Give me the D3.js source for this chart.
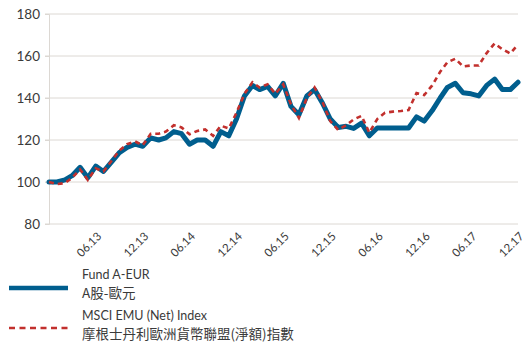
<!DOCTYPE html>
<html>
<head>
<meta charset="utf-8">
<script src="https://cdn.jsdelivr.net/npm/d3@7/dist/d3.min.js"></script>
<style>
  html, body { margin: 0; padding: 0; background: #fff; }
  svg { display: block; }
</style>
</head>
<body>
<svg id="chart" width="529" height="343"></svg>
<script>
// Monthly indexed performance, Dec 2012 = 100
const startMonth = new Date(2012, 11, 1);
const fundValues = [
  100, 100, 101, 103, 107, 102, 107.6, 105, 109.5, 114,
  116.5, 118, 117, 121, 120, 121, 124, 123, 118, 120,
  120, 117, 124, 122, 130, 141, 146, 144, 145.5, 141,
  147, 136, 132, 141, 144, 137.5, 130, 126, 126.5, 125.5,
  128, 122, 125.7, 125.7, 125.7, 125.7, 125.7, 131, 129, 134,
  140, 145, 147, 142.5, 142, 141, 146, 149, 144, 144,
  147.5
];
const indexValues = [
  100, 99, 99.5, 102, 106, 101, 106.5, 105, 110, 115,
  118, 119.3, 117.5, 123, 123, 124, 127, 126, 122.7, 124.3,
  125, 122, 126.8, 125.5, 133, 142, 147.5, 145, 146.5, 142,
  146.5, 137, 130.5, 140, 145, 138, 129, 124.8, 127, 129.8,
  131.5, 123.5, 130, 133, 133.5, 133.8, 134.3, 142.4, 141.4, 146,
  152.5, 157, 158.7, 155, 155.5, 155.5, 161.4, 166, 163.2, 161.2,
  165.5
];
const tickLabels = ["06.13", "12.13", "06.14", "12.14", "06.15", "12.15", "06.16", "12.16", "06.17", "12.17"];
const yTicks = [80, 100, 120, 140, 160, 180];
const seriesNames = [
  ["Fund A-EUR", "A股-歐元"],
  ["MSCI EMU (Net) Index", "摩根士丹利歐洲貨幣聯盟(淨額)指數"]
];

const months = fundValues.map((_, i) => new Date(startMonth.getFullYear(), startMonth.getMonth() + i, 1));
const tickDates = tickLabels.map(s => {
  const [m, y] = s.split(".").map(Number);
  return new Date(2000 + y, m - 1, 1);
});

const svg = d3.select("#chart");
const font = "Lato, 'Noto Sans', 'Noto Sans CJK TC', sans-serif";
const margin = { left: 49, right: 11, top: 14, bottom: 119 };
const width = 529, height = 343;

const x = d3.scaleTime()
  .domain([months[0], months[months.length - 1]])
  .range([margin.left, width - margin.right]);
const y = d3.scaleLinear()
  .domain([80, 180])
  .range([height - margin.bottom, margin.top]);

// Horizontal gridlines
svg.append("g")
  .selectAll("line")
  .data(yTicks)
  .join("line")
  .attr("x1", margin.left - 4)
  .attr("x2", width - margin.right)
  .attr("y1", d => y(d))
  .attr("y2", d => y(d))
  .attr("stroke", "#dcd8d3")
  .attr("stroke-width", 1);

// Left axis
const yAxis = svg.append("g")
  .attr("transform", `translate(${margin.left},0)`)
  .call(d3.axisLeft(y).tickValues(yTicks).tickSize(4).tickPadding(5));
yAxis.select(".domain").attr("stroke", "#dcd8d3");
yAxis.selectAll(".tick line").attr("stroke", "#dcd8d3");
yAxis.selectAll("text")
  .attr("font-family", font)
  .attr("font-size", 13.5)
  .attr("fill", "#3a3a3a");

// Bottom axis labels, rotated
const xAxis = svg.append("g")
  .attr("transform", `translate(0,${y(80)})`)
  .call(d3.axisBottom(x).tickValues(tickDates).tickSize(0)
    .tickFormat((d, i) => tickLabels[i]));
xAxis.select(".domain").remove();
xAxis.selectAll("text")
  .attr("font-family", font)
  .attr("font-size", 11.5)
  .attr("fill", "#3a3a3a")
  .attr("text-anchor", "end")
  .attr("dy", null)
  .attr("y", 0)
  .attr("transform", "translate(6,13) rotate(-45)");

const line = d3.line()
  .x((d, i) => x(months[i]))
  .y(d => y(d))
  .curve(d3.curveLinear);

svg.append("path")
  .datum(fundValues)
  .attr("d", line)
  .attr("fill", "none")
  .attr("stroke", "#005e8e")
  .attr("stroke-width", 5)
  .attr("stroke-linejoin", "round")
  .attr("stroke-linecap", "round");

svg.append("path")
  .datum(indexValues)
  .attr("d", line)
  .attr("fill", "none")
  .attr("stroke", "#c2302d")
  .attr("stroke-width", 2.6)
  .attr("stroke-dasharray", "5,4");

// Legend
const legend = svg.append("g");
const legendRows = [
  { name: seriesNames[0], lineY: 288, textY: 279, subY: 298, color: "#005e8e", w: 4.5, dash: null },
  { name: seriesNames[1], lineY: 328, textY: 320, subY: 338.5, color: "#c2302d", w: 2.6, dash: "6,4.5" }
];
legendRows.forEach(r => {
  legend.append("line")
    .attr("x1", 9).attr("x2", 68)
    .attr("y1", r.lineY).attr("y2", r.lineY)
    .attr("stroke", r.color)
    .attr("stroke-width", r.w)
    .attr("stroke-dasharray", r.dash);
  legend.append("text")
    .attr("x", 82).attr("y", r.textY)
    .attr("font-family", font)
    .attr("font-size", 12.5)
    .attr("fill", "#3a3a3a")
    .text(r.name[0]);
  legend.append("text")
    .attr("x", 82).attr("y", r.subY)
    .attr("font-family", "'Noto Sans CJK TC', 'Noto Sans', sans-serif")
    .attr("font-size", 13.5)
    .attr("fill", "#3a3a3a")
    .text(r.name[1]);
});
</script>
</body>
</html>
